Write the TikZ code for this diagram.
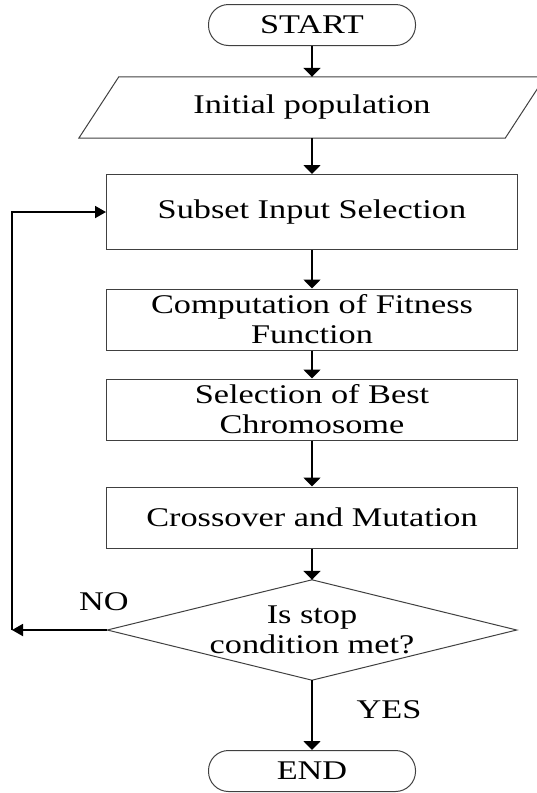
\documentclass[tikz,border=0pt]{standalone}
\usepackage{fontspec}
\setmainfont{Liberation Serif}[FakeStretch=1.27]
\usetikzlibrary{arrows.meta}
\begin{document}
\begin{tikzpicture}[x=1pt,y=-1pt,
  every node/.style={font=\fontsize{27}{30}\selectfont, inner sep=0pt, align=center},
  shapeline/.style={draw=black!75, line width=1pt},
  procbox/.style={shapeline, minimum width=411pt, minimum height=61pt},
  termbox/.style={shapeline, rounded corners=20pt, minimum width=207pt, minimum height=41pt},
  varrow/.style={line width=1.8pt, -{Triangle[width=17pt,length=9pt]}},
  harrow/.style={line width=1.8pt, -{Triangle[width=12pt,length=11pt]}},
  plainline/.style={line width=1.8pt}
]
\useasboundingbox (0,0) rectangle (536,793);

\node[termbox] (start) at (312,25) {START};
\node[minimum width=426pt, minimum height=61pt] (init) at (312,107.5) {Initial population};
\draw[shapeline] ([xshift=20pt]init.north west) -- ([xshift=20pt]init.north east)
  -- ([xshift=-20pt]init.south east) -- ([xshift=-20pt]init.south west) -- cycle;
\node[procbox, minimum height=75pt] (sub) at (312,212) {Subset Input Selection};
\node[procbox] (comp) at (312,319.5) {Computation of Fitness\\Function};
\node[procbox] (sel) at (312,409.5) {Selection of Best\\Chromosome};
\node[procbox] (cross) at (312,517.5) {Crossover and Mutation};
\node[minimum width=409pt, minimum height=100pt] (dec) at (312,630) {Is stop\\condition met?};
\draw[shapeline] (dec.north) -- (dec.east) -- (dec.south) -- (dec.west) -- cycle;
\node[termbox] (end) at (312,771) {END};

\node (no) at (104,602) {NO};
\node (yes) at (389,710) {YES};

\coordinate (corner) at (12,630);

\draw[varrow] (start) -- (init);
\draw[varrow] (init) -- (sub);
\draw[varrow] (sub) -- (comp);
\draw[varrow] (comp) -- (sel);
\draw[varrow] (sel) -- (cross);
\draw[varrow] (cross) -- (dec.north);
\draw[varrow] (dec.south) -- (end);
\draw[harrow] (dec.west) -- (corner);
\draw[harrow] (corner) |- (sub.west);
\end{tikzpicture}
\end{document}
